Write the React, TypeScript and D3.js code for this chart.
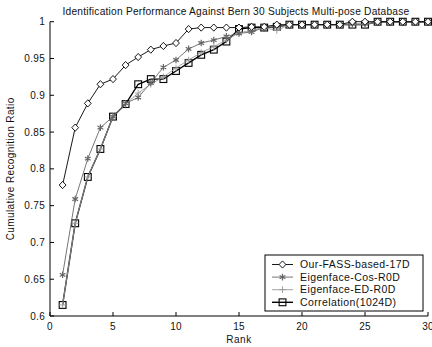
import * as d3 from 'd3';

// Rank 1..30 on the x axis
const ranks = d3.range(1, 31);

const fass = [0.778, 0.856, 0.889, 0.915, 0.922, 0.941, 0.952, 0.962, 0.967, 0.971,
  0.990, 0.992, 0.992, 0.992, 0.992, 0.993, 0.993, 0.996, 0.996, 0.996,
  0.996, 0.996, 0.996, 1.0, 1.0, 1.0, 1.0, 1.0, 1.0, 1.0];
const eigCos = [0.656, 0.759, 0.814, 0.856, 0.871, 0.889, 0.897, 0.917, 0.938, 0.948,
  0.963, 0.971, 0.975, 0.980, 0.984, 0.986, 0.992, 0.993, 0.996, 0.996,
  0.996, 0.996, 0.996, 0.997, 0.997, 1.0, 1.0, 1.0, 1.0, 1.0];
const eigEd = [0.615, 0.726, 0.789, 0.827, 0.871, 0.888, 0.903, 0.915, 0.925, 0.937,
  0.948, 0.958, 0.966, 0.975, 0.985, 0.988, 0.992, 0.988, 0.996, 0.996,
  0.996, 0.996, 0.996, 0.996, 0.996, 1.0, 1.0, 1.0, 1.0, 1.0];
const corr = [0.615, 0.726, 0.789, 0.827, 0.871, 0.888, 0.915, 0.922, 0.922, 0.933,
  0.944, 0.955, 0.962, 0.973, 0.990, 0.992, 0.992, 0.993, 0.996, 0.996,
  0.996, 0.996, 0.996, 0.996, 0.996, 1.0, 1.0, 1.0, 1.0, 1.0];

const seriesNames = ['Our-FASS-based-17D', 'Eigenface-Cos-R0D', 'Eigenface-ED-R0D', 'Correlation(1024D)'];
const xTicks = [0, 5, 10, 15, 20, 25, 30];
const yTicks = [0.6, 0.65, 0.7, 0.75, 0.8, 0.85, 0.9, 0.95, 1];

const W = 432, H = 347;
const FONT = 'Arial, "Liberation Sans", sans-serif';

type Marker = 'diamond' | 'star' | 'plus' | 'square';

function MarkerShape({ kind, x, y, color }: { kind: Marker; x: number; y: number; color: string }) {
  const r = 3.3;
  if (kind === 'diamond') {
    return <path d={`M${x},${y - 3.6}L${x + 3.4},${y}L${x},${y + 3.6}L${x - 3.4},${y}Z`} fill="white" stroke={color} strokeWidth={0.9} />;
  }
  if (kind === 'square') {
    return <rect x={x - 3.4} y={y - 3.4} width={6.8} height={6.8} fill="none" stroke={color} strokeWidth={1.1} />;
  }
  if (kind === 'plus') {
    return <path d={`M${x - r},${y}H${x + r}M${x},${y - r}V${y + r}`} stroke={color} strokeWidth={0.9} />;
  }
  // asterisk
  const a = r * Math.cos(Math.PI / 6), b = r * 0.5;
  return <path d={`M${x},${y - r}V${y + r}M${x - a},${y - b}L${x + a},${y + b}M${x - a},${y + b}L${x + a},${y - b}`}
    stroke={color} strokeWidth={1.2} />;
}

export default function App() {
  const x = d3.scaleLinear().domain([0, 30]).range([50, 428]);
  const y = d3.scaleLinear().domain([0.6, 1]).range([316, 21.7]);

  const line = d3.line<number>().x((d, i) => x(ranks[i])).y(d => y(d));

  const series = [
    { name: seriesNames[0], values: fass, color: '#000', width: 0.9, marker: 'diamond' as Marker },
    { name: seriesNames[1], values: eigCos, color: '#666', width: 0.9, marker: 'star' as Marker },
    { name: seriesNames[2], values: eigEd, color: '#9a9a9a', width: 0.9, marker: 'plus' as Marker },
    { name: seriesNames[3], values: corr, color: '#000', width: 1.4, marker: 'square' as Marker },
  ];

  const legX = 265, legY = 255, legW = 158, legH = 56;

  return (
    <svg width={W} height={H} style={{ position: 'absolute', left: 0, top: 0, background: 'white' }}
      fontFamily={FONT}>
      <rect width={W} height={H} fill="white" />
      <text x={236} y={15} textAnchor="middle" fontSize={10.2} letterSpacing={0.22} fill="#111">
        Identification Performance Against Bern 30 Subjects Multi-pose Database
      </text>

      {/* series, drawn bottom to top */}
      {[...series].reverse().map(s => (
        <g key={s.name}>
          <path d={line(s.values) ?? ''} fill="none" stroke={s.color} strokeWidth={s.width} />
          {s.values.map((v, i) => (
            <MarkerShape key={i} kind={s.marker} x={x(ranks[i])} y={y(v)} color={s.color} />
          ))}
        </g>
      ))}

      {/* axes */}
      <line x1={50} x2={50} y1={y(1)} y2={y(0.6)} stroke="#000" strokeWidth={1} />
      <line x1={50} x2={428} y1={y(0.6)} y2={y(0.6)} stroke="#000" strokeWidth={1} />
      {xTicks.map(t => (
        <g key={'x' + t}>
          <line x1={x(t)} x2={x(t)} y1={y(0.6)} y2={y(0.6) - 4} stroke="#000" />
          <text x={x(t)} y={330} textAnchor="middle" fontSize={10} letterSpacing={0.3} fill="#111">{t}</text>
        </g>
      ))}
      {yTicks.map(t => (
        <g key={'y' + t}>
          <line x1={50} x2={54} y1={y(t)} y2={y(t)} stroke="#000" />
          <text x={45} y={y(t) + 3.5} textAnchor="end" fontSize={10} letterSpacing={0.3} fill="#111">{d3.format('~g')(t)}</text>
        </g>
      ))}
      <text x={x(15)} y={343} textAnchor="middle" fontSize={10} letterSpacing={0.5} fill="#111">Rank</text>
      <text transform={`translate(14,${y(0.8)}) rotate(-90)`} textAnchor="middle" fontSize={10} letterSpacing={0.4} fill="#111">
        Cumulative Recognition Ratio
      </text>

      {/* legend */}
      <rect x={legX} y={legY} width={legW} height={legH} fill="white" stroke="#000" strokeWidth={1} />
      {series.map((s, i) => {
        const ly = legY + 9.5 + i * 12.6;
        return (
          <g key={'l' + s.name}>
            <line x1={272} x2={293} y1={ly} y2={ly} stroke={s.color} strokeWidth={s.width} />
            <MarkerShape kind={s.marker} x={282.5} y={ly} color={s.color} />
            <text x={300} y={ly + 3.6} fontSize={10.5} letterSpacing={0.4} fill="#111">{s.name}</text>
          </g>
        );
      })}
    </svg>
  );
}
